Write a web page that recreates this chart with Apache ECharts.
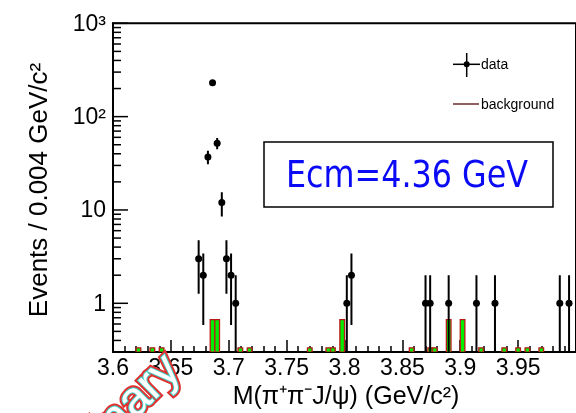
<!DOCTYPE html>
<html>
<head>
<meta charset="utf-8">
<title></title>
<script src="https://cdn.jsdelivr.net/npm/echarts@6/dist/echarts.min.js"></script>
<style>
html,body{margin:0;padding:0;background:#fff;}
#main{width:576px;height:413px;}
</style>
</head>
<body>
<div id="main"></div>
<script>
// data points: bin centres (0.004 GeV/c2 bins) and event counts
var dataX = [3.674, 3.678, 3.682, 3.686, 3.690, 3.694, 3.698, 3.702, 3.706,
             3.802, 3.806, 3.870, 3.874, 3.890, 3.914, 3.930, 3.986, 3.994];
var dataY = [3, 2, 37, 231, 52, 12, 3, 2, 1,
             1, 2, 1, 1, 1, 1, 1, 1, 1];
// background histogram (weighted entries)
var bgX = [3.622, 3.634, 3.642, 3.686, 3.690, 3.710, 3.718, 3.770, 3.786, 3.790, 3.798,
           3.858, 3.874, 3.878, 3.890, 3.902, 3.918, 3.938, 3.950, 3.958, 3.970];
var bgY = [0.333, 0.333, 0.333, 0.667, 0.667, 0.333, 0.333, 0.333, 0.333, 0.333, 0.667,
           0.333, 0.333, 0.333, 0.667, 0.667, 0.333, 0.333, 0.333, 0.333, 0.333];
// y axis ticks
var yMajor = [1, 10, 100, 1000];
var yMajorLabels = ['1', '10', '10²', '10³'];
var yMinor = [0.4, 0.5, 0.6, 0.7, 0.8, 0.9,
              2, 3, 4, 5, 6, 7, 8, 9,
              20, 30, 40, 50, 60, 70, 80, 90,
              200, 300, 400, 500, 600, 700, 800, 900];

var xMin = 3.6, xMax = 4.0, yMin = 0.3, yMax = 1000, binW = 0.004;
var font = '"Liberation Sans", Arial, sans-serif';

var myChart = echarts.init(document.getElementById('main'), null, {renderer: 'canvas'});

function renderBg(params, api) {
    var x = api.value(0), y = api.value(1);
    var p0 = api.coord([x - binW / 2, y]);
    var p1 = api.coord([x + binW / 2, yMin]);
    return {
        type: 'rect',
        shape: {x: p0[0], y: p0[1], width: p1[0] - p0[0], height: p1[1] - p0[1]},
        style: {fill: '#00ee00', stroke: '#b81a18', lineWidth: 1.3}
    };
}

function renderData(params, api) {
    var x = api.value(0), n = api.value(1);
    var err = Math.sqrt(n);
    var lo = Math.max(n - err, yMin), hi = n + err;
    var pc = api.coord([x, n]);
    var pHi = api.coord([x, hi]);
    var pLo = api.coord([x, lo]);
    var pL = api.coord([x - binW / 2, n]);
    var pR = api.coord([x + binW / 2, n]);
    return {
        type: 'group',
        children: [
            {type: 'line', shape: {x1: pc[0], y1: pHi[1], x2: pc[0], y2: pLo[1]}, style: {stroke: '#000', lineWidth: 2}},
            {type: 'line', shape: {x1: pL[0], y1: pc[1], x2: pR[0], y2: pc[1]}, style: {stroke: '#000', lineWidth: 2}},
            {type: 'circle', shape: {cx: pc[0], cy: pc[1], r: 3.5}, style: {fill: '#000'}}
        ]
    };
}

function renderYTicks(params, api) {
    var v = api.value(1), idx = api.value(2);
    var p = api.coord([xMin, v]);
    var major = idx >= 0;
    var len = major ? 15 : 8;
    var children = [{
        type: 'line',
        shape: {x1: p[0], y1: p[1], x2: p[0] + len, y2: p[1]},
        style: {stroke: '#000', lineWidth: 1.5}
    }];
    if (major) {
        children.push({
            type: 'text',
            style: {
                x: p[0] - 7, y: p[1] + 1, text: yMajorLabels[idx],
                font: '23px ' + font, fill: '#000', align: 'right', verticalAlign: 'middle'
            }
        });
    }
    return {type: 'group', children: children};
}

var yTickData = [];
yMajor.forEach(function (v, i) { yTickData.push([xMin, v, i]); });
yMinor.forEach(function (v) { yTickData.push([xMin, v, -1]); });

myChart.setOption({
    animation: false,
    backgroundColor: '#fff',
    grid: {
        left: 113, top: 23.3, width: 468.8, height: 328.8,
        show: true, borderColor: '#000', borderWidth: 2, backgroundColor: 'transparent'
    },
    xAxis: {
        type: 'value', min: xMin, max: xMax, interval: 0.05,
        axisLine: {lineStyle: {color: '#000', width: 2}},
        axisTick: {inside: true, length: 12, lineStyle: {color: '#000', width: 1.5}},
        minorTick: {show: true, splitNumber: 5, length: 6, lineStyle: {color: '#000', width: 1.5}},
        axisLabel: {
            color: '#000', fontSize: 23, fontFamily: font, margin: 5,
            showMaxLabel: false
        },
        splitLine: {show: false}
    },
    yAxis: {
        type: 'log', logBase: 10, min: yMin, max: yMax,
        axisLine: {show: true, lineStyle: {color: '#000', width: 2}},
        axisTick: {show: false},
        axisLabel: {show: false},
        splitLine: {show: false}
    },
    series: [
        {
            type: 'custom', name: 'background', renderItem: renderBg, clip: true,
            data: bgX.map(function (x, i) { return [x, bgY[i]]; }), z: 2
        },
        {
            type: 'custom', name: 'data', renderItem: renderData, clip: true,
            data: dataX.map(function (x, i) { return [x, dataY[i]]; }), z: 3
        },
        {
            type: 'custom', name: 'yticks', renderItem: renderYTicks, clip: false,
            data: yTickData, z: 4, silent: true
        }
    ],
    graphic: [
        // axis titles
        {
            type: 'text', x: 40, y: 190, rotation: Math.PI / 2,
            style: {text: 'Events / 0.004 GeV/c²', font: '26px ' + font, fill: '#000', align: 'center', verticalAlign: 'middle'}
        },
        {
            type: 'text', x: 346, y: 397,
            style: {text: 'M(π⁺π⁻J/ψ) (GeV/c²)', font: '25px ' + font, fill: '#000', align: 'center', verticalAlign: 'middle'}
        },
        // Ecm box
        {
            type: 'rect', shape: {x: 264, y: 142, width: 289, height: 65},
            style: {fill: '#fff', stroke: '#000', lineWidth: 1.5}, z: 10
        },
        {
            type: 'text', x: 407, y: 177, scaleX: 0.86, z: 11,
            style: {text: 'Ecm=4.36 GeV', font: '37px "DejaVu Sans", sans-serif', fill: '#0a0af5', align: 'center', verticalAlign: 'middle'}
        },
        // legend
        {type: 'line', shape: {x1: 466.7, y1: 53, x2: 466.7, y2: 77}, style: {stroke: '#000', lineWidth: 1.5}, z: 10},
        {type: 'line', shape: {x1: 453, y1: 64.3, x2: 480, y2: 64.3}, style: {stroke: '#000', lineWidth: 1.5}, z: 10},
        {type: 'circle', shape: {cx: 466.7, cy: 64.3, r: 3}, style: {fill: '#000'}, z: 10},
        {type: 'text', x: 481, y: 65, z: 10, style: {text: 'data', font: '14px ' + font, fill: '#000', align: 'left', verticalAlign: 'middle'}},
        {type: 'line', shape: {x1: 453, y1: 104, x2: 479, y2: 104}, style: {stroke: '#6b2a2a', lineWidth: 1.5}, z: 10},
        {type: 'text', x: 481, y: 105, z: 10, style: {text: 'background', font: '14px ' + font, fill: '#000', align: 'left', verticalAlign: 'middle'}},
        // watermark
        {
            type: 'text', x: 190, y: 380, rotation: Math.PI / 4, z: 20,
            style: {
                text: 'Preliminary', font: '48px ' + font, fill: '#e03030', stroke: '#e03030', lineWidth: 6,
                align: 'right', verticalAlign: 'bottom',
                shadowBlur: 4, shadowColor: 'rgba(0,0,0,0.35)', shadowOffsetX: 2, shadowOffsetY: 2
            }
        },
        {
            type: 'text', x: 190, y: 380, rotation: Math.PI / 4, z: 21,
            style: {
                text: 'Preliminary', font: '48px ' + font, fill: '#ffffff', stroke: '#3fd6cc', lineWidth: 2,
                align: 'right', verticalAlign: 'bottom'
            }
        }
    ]
});

window.addEventListener('resize', function () {
    myChart.resize();
});
</script>
</body>
</html>
